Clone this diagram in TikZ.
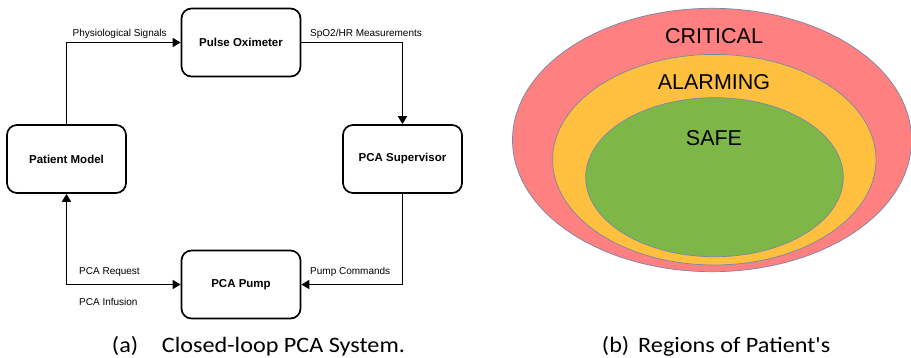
\documentclass[tikz,border=0pt]{standalone}
\usepackage{fontspec}
\setmainfont{Liberation Sans}
\newfontfamily\capfont{Carlito}
\usetikzlibrary{arrows.meta}

\definecolor{critred}{RGB}{255,128,128}
\definecolor{alarmyellow}{RGB}{255,192,64}
\definecolor{safegreen}{RGB}{126,183,72}
\definecolor{rimgray}{RGB}{118,136,168}

\begin{document}
\begin{tikzpicture}[x=1pt,y=-1pt,
	block/.style={draw, line width=1.7pt, rounded corners=10pt,
		minimum width=119pt, minimum height=68pt,
		font=\fontsize{11.5}{13}\selectfont\bfseries},
	flow/.style={line width=1.5pt, -{Triangle[length=8pt,width=9pt]}},
	signal/.style={inner sep=0pt, anchor=base west, font=\fontsize{10}{12}\selectfont},
	region/.style={draw=rimgray, line width=0.7pt},
	zone/.style={inner sep=0pt, anchor=base, font=\fontsize{21.5}{24}\selectfont},
	caption/.style={inner sep=0pt, anchor=base west, xscale=1.1,
		font=\capfont\fontsize{22}{26}\selectfont}]

% parameters %{{{2

	\def\cx{714}

% canvas %{{{2

	\useasboundingbox (0,0) rectangle (911,357);

% blocks %{{{2

	\node[block] (oximeter)   at (241,42.5)  {Pulse Oximeter};
	\node[block] (patient)    at (66.5,159)  {Patient Model};
	\node[block] (supervisor) at (402.5,159) {PCA Supervisor};
	\node[block] (pump)       at (241,284.5) {PCA Pump};

% connectors %{{{2

	\draw[flow] (patient.north) |- (oximeter.west);
	\draw[flow] (oximeter.east) -| (supervisor.north);
	\draw[flow] (supervisor.south) |- (pump.east);
	\draw[flow, {Triangle[length=8pt,width=9pt]}-{Triangle[length=8pt,width=9pt]}]
		(patient.south) |- (pump.west);

% connector labels %{{{2

	\node[signal] (physio)  at (72.5,36)  {Physiological Signals};
	\node[signal] (spo2)    at (310,36)   {SpO2/HR Measurements};
	\node[signal] (command) at (310,274)  {Pump Commands};
	\node[signal] (request) at (79,274)   {PCA Request};
	\node[signal] (infuse)  at (79,305.5) {PCA Infusion};

% regions %{{{2

	\fill[critred] (712,140) ellipse (199.5 and 131.7);
	\draw[region] (712,140) ellipse (199.5 and 131.7);
	\filldraw[region, fill=alarmyellow] (714.3,159.7) ellipse (161.7 and 105.3);
	\filldraw[region, fill=safegreen] (714.5,177.2) ellipse (128.8 and 79.5);

% region labels %{{{2

	\node[zone] (critical) at (\cx,43.3)  {CRITICAL};
	\node[zone] (alarming) at (\cx,89.3)  {ALARMING};
	\node[zone] (safe)     at (\cx,145.7) {SAFE};

% captions %{{{2

	\node[caption] (taga)  at (111.7,352) {(a)};
	\node[caption] (capa)  at (161.7,352) {Closed-loop PCA System.};
	\node[caption] (tagb)  at (601.7,352) {(b)};
	\node[caption] (capb)  at (638,352)   {Regions of Patient's};

% closing %{{{2

\end{tikzpicture}
\end{document}
